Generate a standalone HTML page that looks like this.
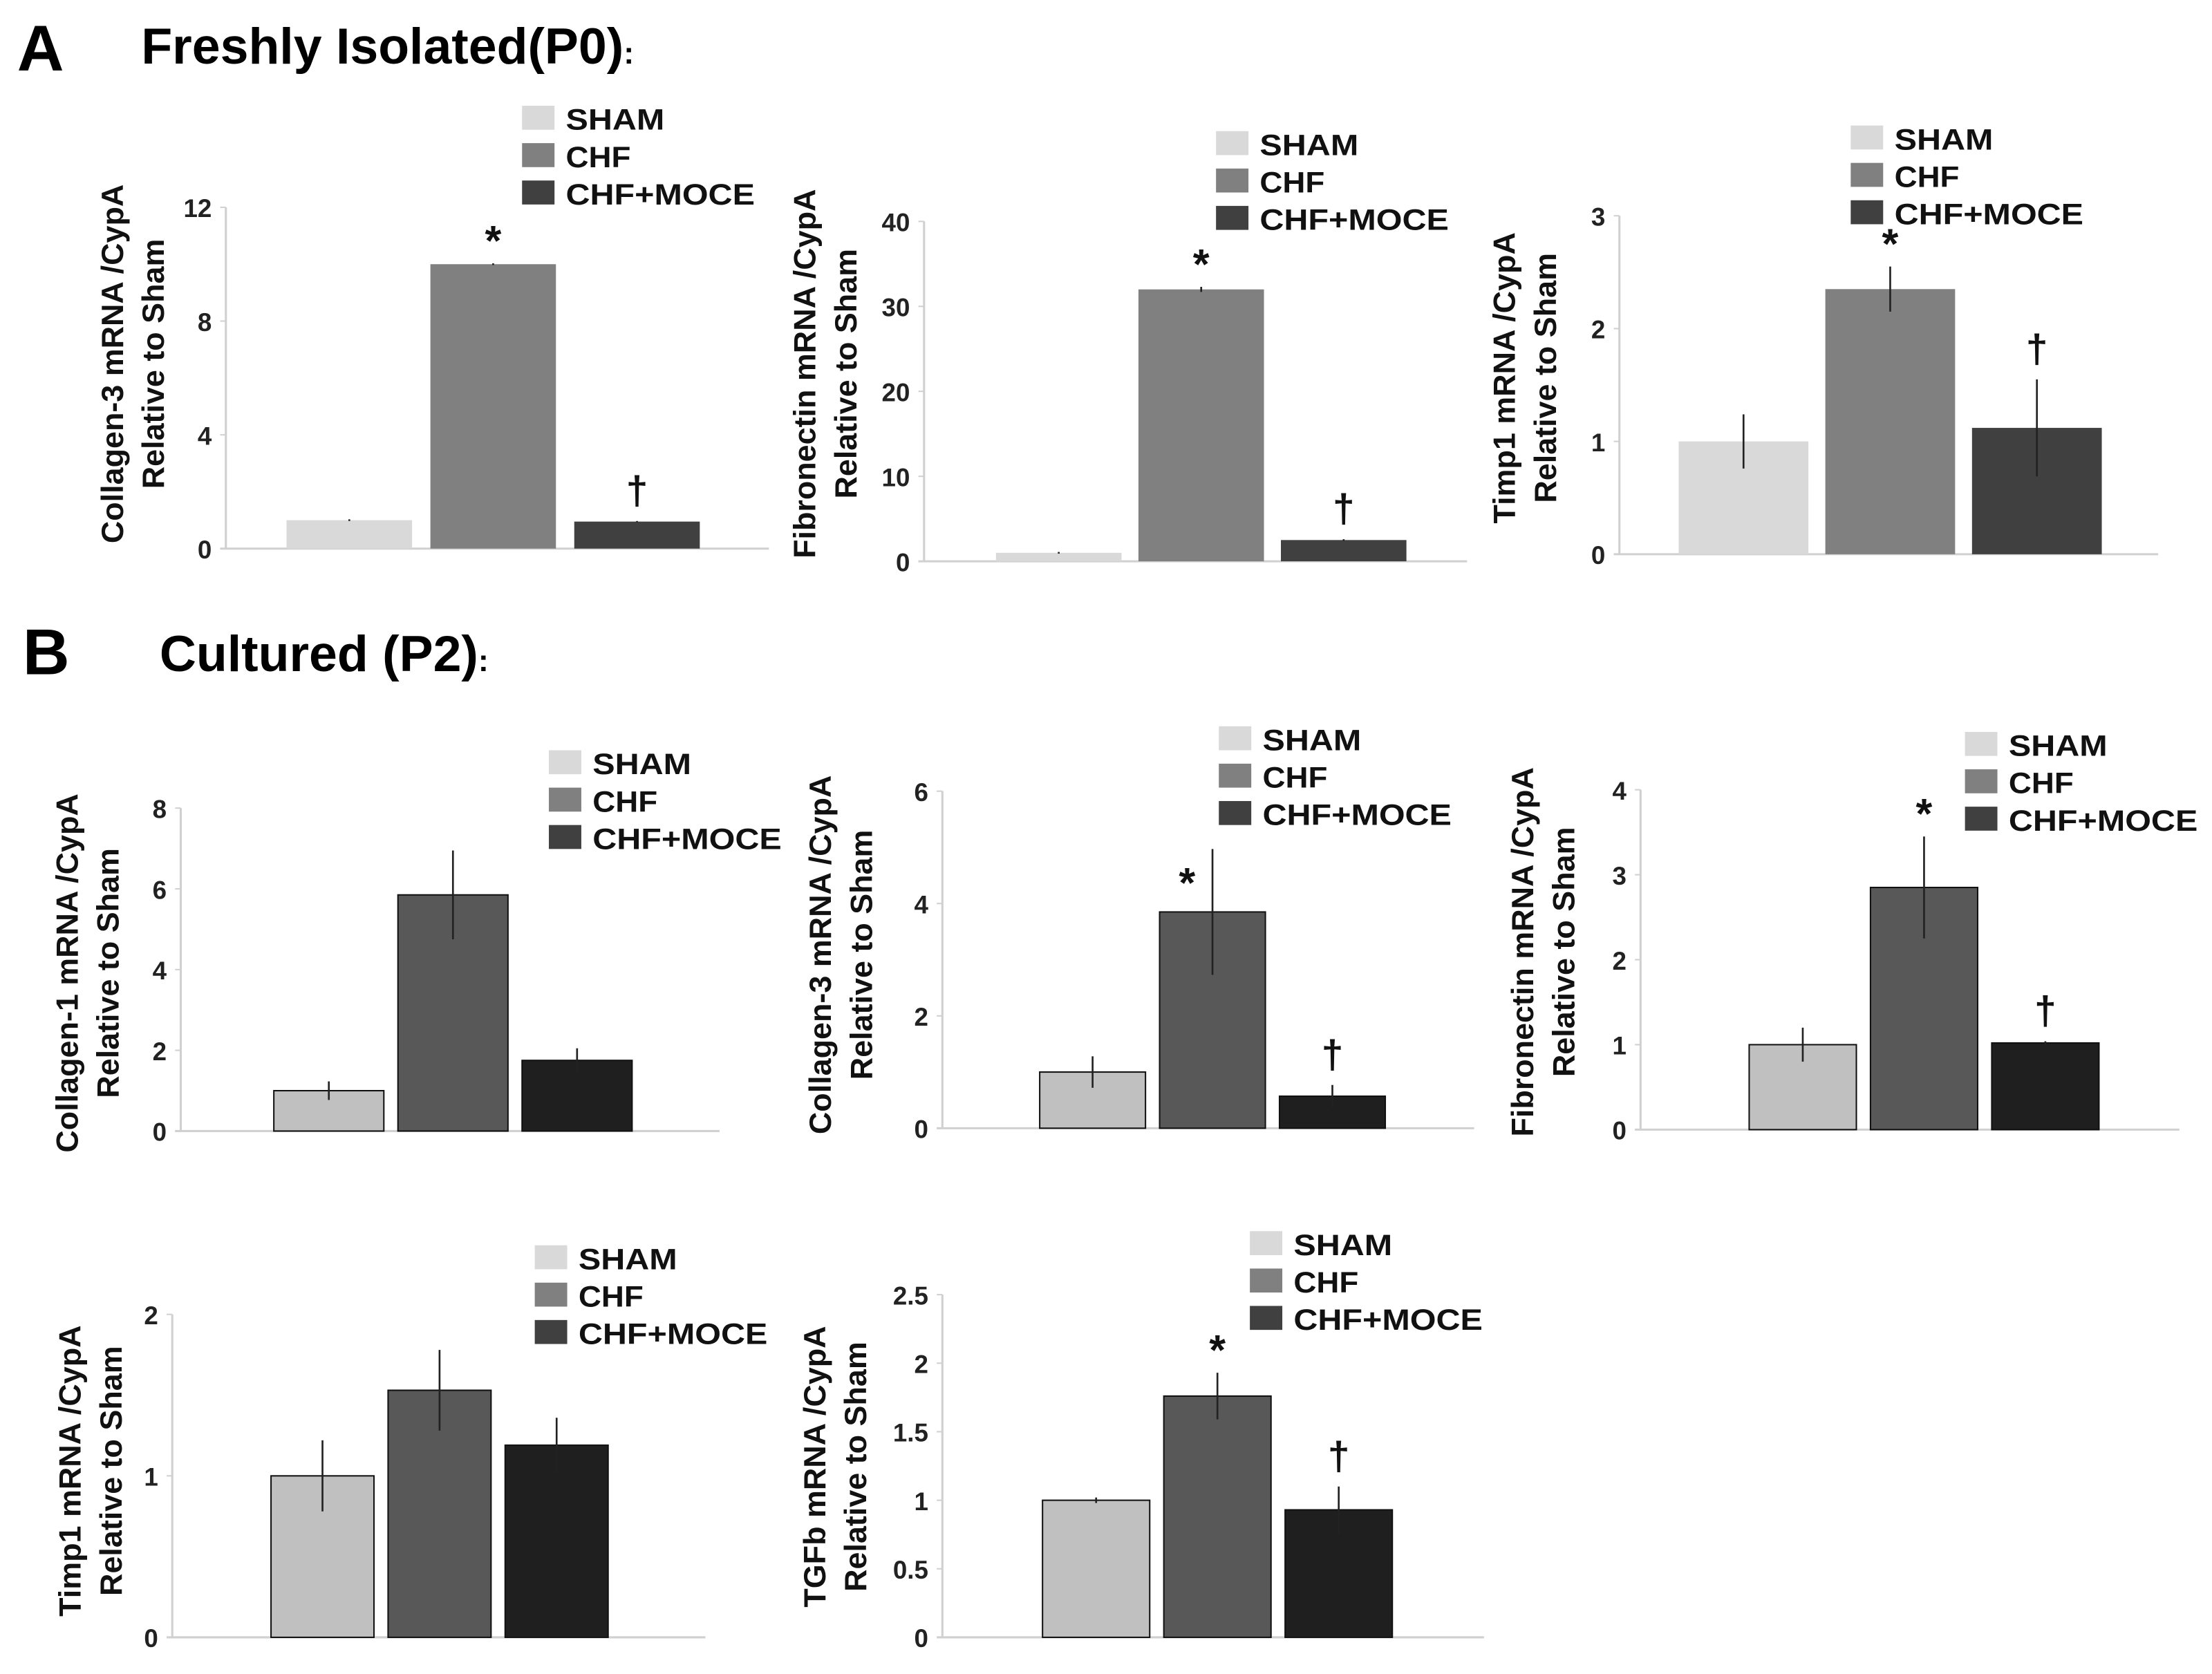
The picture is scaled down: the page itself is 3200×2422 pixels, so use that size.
<!DOCTYPE html>
<html><head><meta charset="utf-8"><style>
html,body{margin:0;padding:0;background:#fff}
svg{display:block}
text{font-family:"Liberation Sans",Arial,sans-serif}
</style></head><body>
<svg id="fig" width="3200" height="2422" viewBox="0 0 1568 1187" xmlns="http://www.w3.org/2000/svg">
<text x="12" y="50" font-size="46" font-weight="bold">A</text>
<text x="100" y="45" font-size="36" font-weight="bold">Freshly Isolated(P0)<tspan font-size="22">:</tspan></text>
<text x="16" y="478" font-size="46" font-weight="bold">B</text>
<text x="113" y="476" font-size="36" font-weight="bold">Cultured (P2)<tspan font-size="22">:</tspan></text>
</svg>
<script>
var groups = ["SHAM","CHF","CHF+MOCE"];
// chart A1: Collagen-3 P0
var a1Values = [1, 10, 0.95];
var a1Errors = [0.03, 0.03, 0.02];
var a1Ticks = [0,4,8,12];
// chart A2: Fibronectin P0
var a2Values = [1, 32, 2.5];
var a2Errors = [0.1, 0.3, 0.1];
var a2Ticks = [0,10,20,30,40];
// chart A3: Timp1 P0
var a3Values = [1, 2.35, 1.12];
var a3Errors = [0.24, 0.2, 0.43];
var a3Ticks = [0,1,2,3];
// chart B1: Collagen-1 P2
var b1Values = [1, 5.85, 1.75];
var b1Errors = [0.23, 1.1, 0.3];
var b1Ticks = [0,2,4,6,8];
// chart B2: Collagen-3 P2
var b2Values = [1, 3.85, 0.57];
var b2Errors = [0.28, 1.12, 0.2];
var b2Ticks = [0,2,4,6];
// chart B3: Fibronectin P2
var b3Values = [1, 2.85, 1.02];
var b3Errors = [0.2, 0.6, 0.02];
var b3Ticks = [0,1,2,3,4];
// chart B4: Timp1 P2
var b4Values = [1, 1.53, 1.19];
var b4Errors = [0.22, 0.25, 0.17];
var b4Ticks = [0,1,2];
// chart B5: TGFb P2
var b5Values = [1, 1.76, 0.93];
var b5Errors = [0.02, 0.17, 0.17];
var b5Ticks = ["0","0.5","1","1.5","2","2.5"];
var marksA = ["","*","†"], marksNone = ["","",""];

var NS = "http://www.w3.org/2000/svg";
var svg = document.getElementById("fig");
function mk(tag, attrs, parent){var e=document.createElementNS(NS,tag);for(var k in attrs)e.setAttribute(k,attrs[k]);(parent||svg).appendChild(e);return e;}

var colA = ["#d9d9d9","#808080","#404040"], colB = ["#c0c0c0","#585858","#1f1f1f"];

function chart(id, o, vals, errs, ticks, marks){
  var g = mk("g",{});
  
  
  var tmax = parseFloat(ticks[ticks.length-1]);
  function y(v){return o.y0 - (v/tmax)*(o.y0-o.yTop);}
  var ax = mk("line",{x1:o.ax,y1:o.yTop,x2:o.ax,y2:o.y0,stroke:"#d0d0d0","stroke-width":1.5},g);
  
  
  var bl = mk("line",{x1:o.ax-4,y1:o.y0,x2:o.xEnd,y2:o.y0,stroke:"#d0d0d0","stroke-width":1.5},g);
  
  
  ticks.forEach(function(t){
    var tl = mk("text",{x:o.ax-10,y:y(parseFloat(t))+7,"font-size":18,"font-weight":"bold","text-anchor":"end",fill:"#222"},g);
    tl.textContent = t;
    
    
    mk("line",{x1:o.ax-4,y1:y(parseFloat(t)),x2:o.ax,y2:y(parseFloat(t)),stroke:"#d0d0d0","stroke-width":1},g);
  });
  var cols = o.b ? colB : colA;
  vals.forEach(function(v,i){
    var x = o.bx + i*(o.bw+o.gap);
    var r = mk("rect",{x:x,y:y(v),width:o.bw,height:o.y0-y(v),fill:cols[i]},g);
    if(o.b){r.setAttribute("stroke","#111");r.setAttribute("stroke-width","1");}
    
    
    var cx = x+o.bw/2;
    var eb = mk("line",{x1:cx,y1:y(v+errs[i]),x2:cx,y2:y(v-errs[i]),stroke:"#222","stroke-width":1.3},g);
    
    
    if(marks[i]){
      var sx = cx + (o.starDx && marks[i]=="*" ? o.starDx : 0);
      var sy = y(v+errs[i])-(marks[i]=="*"?6:12) + (o.starDy && marks[i]=="*" ? o.starDy : 0);
      var m = mk("text",{x:sx,y:sy,"font-size":marks[i]=="*"?30:28,"font-weight":"bold","text-anchor":"middle",fill:"#111"},g);
      m.textContent = marks[i];
      
      
    }
  });
  groups.forEach(function(name,i){
    var ly = o.ly + i*26.5;
    var sw = mk("rect",{x:o.lx,y:ly-9,width:23,height:17,fill:o.b?colA[i]:cols[i]},g);
    
    
    var lt = mk("text",{x:o.lx+31,y:ly+8,"font-size":21,"font-weight":"bold",fill:"#111",textLength:name.length>5?134:(name=="SHAM"?70:46),lengthAdjust:"spacingAndGlyphs"},g);
    lt.textContent = name;
    
    
  });
  o.titles.forEach(function(t,i){
    var tx = o.tx + i*29;
    var tt = mk("text",{x:tx,y:o.tc,"font-size":22,"font-weight":"bold","text-anchor":"middle",fill:"#111",transform:"rotate(-90 "+tx+" "+o.tc+")"},g);
    tt.textContent = t;
    
    
  });
}

chart("chart-a1-collagen3",{ax:160,yTop:147,y0:389,xEnd:545,bx:203,bw:89,gap:13,lx:370,ly:84,tx:87,tc:258,titles:["Collagen-3 mRNA /CypA","Relative to Sham"]},a1Values,a1Errors,a1Ticks,marksA);
chart("chart-a2-fibronectin",{ax:655,yTop:157,y0:398,xEnd:1040,bx:706,bw:89,gap:12,lx:862,ly:102,tx:578,tc:265,titles:["Fibronectin mRNA /CypA","Relative to Sham"]},a2Values,a2Errors,a2Ticks,marksA);
chart("chart-a3-timp1",{ax:1148,yTop:153,y0:393,xEnd:1530,bx:1190,bw:92,gap:12,lx:1312,ly:98,tx:1074,tc:268,titles:["Timp1 mRNA /CypA","Relative to Sham"]},a3Values,a3Errors,a3Ticks,marksA);
chart("chart-b1-collagen1",{b:1,ax:128,yTop:573,y0:802,xEnd:510,bx:194,bw:78,gap:10,lx:389,ly:541,tx:55,tc:690,titles:["Collagen-1 mRNA /CypA","Relative to Sham"]},b1Values,b1Errors,b1Ticks,marksNone);
chart("chart-b2-collagen3",{b:1,ax:668,yTop:561,y0:800,xEnd:1045,bx:737,bw:75,gap:10,lx:864,ly:524,tx:589,tc:677,starDx:-18,starDy:40,titles:["Collagen-3 mRNA /CypA","Relative to Sham"]},b2Values,b2Errors,b2Ticks,marksA);
chart("chart-b3-fibronectin",{b:1,ax:1163,yTop:560,y0:801,xEnd:1545,bx:1240,bw:76,gap:10,lx:1393,ly:528,tx:1087,tc:675,titles:["Fibronectin mRNA /CypA","Relative to Sham"]},b3Values,b3Errors,b3Ticks,marksA);
chart("chart-b4-timp1",{b:1,ax:122,yTop:932,y0:1161,xEnd:500,bx:192,bw:73,gap:10,lx:379,ly:892,tx:57,tc:1043,titles:["Timp1 mRNA /CypA","Relative to Sham"]},b4Values,b4Errors,b4Ticks,marksNone);
chart("chart-b5-tgfb",{b:1,ax:668,yTop:918,y0:1161,xEnd:1052,bx:739,bw:76,gap:10,lx:886,ly:882,tx:585,tc:1040,titles:["TGFb mRNA /CypA","Relative to Sham"]},b5Values,b5Errors,b5Ticks,marksA);
</script>
</body></html>
